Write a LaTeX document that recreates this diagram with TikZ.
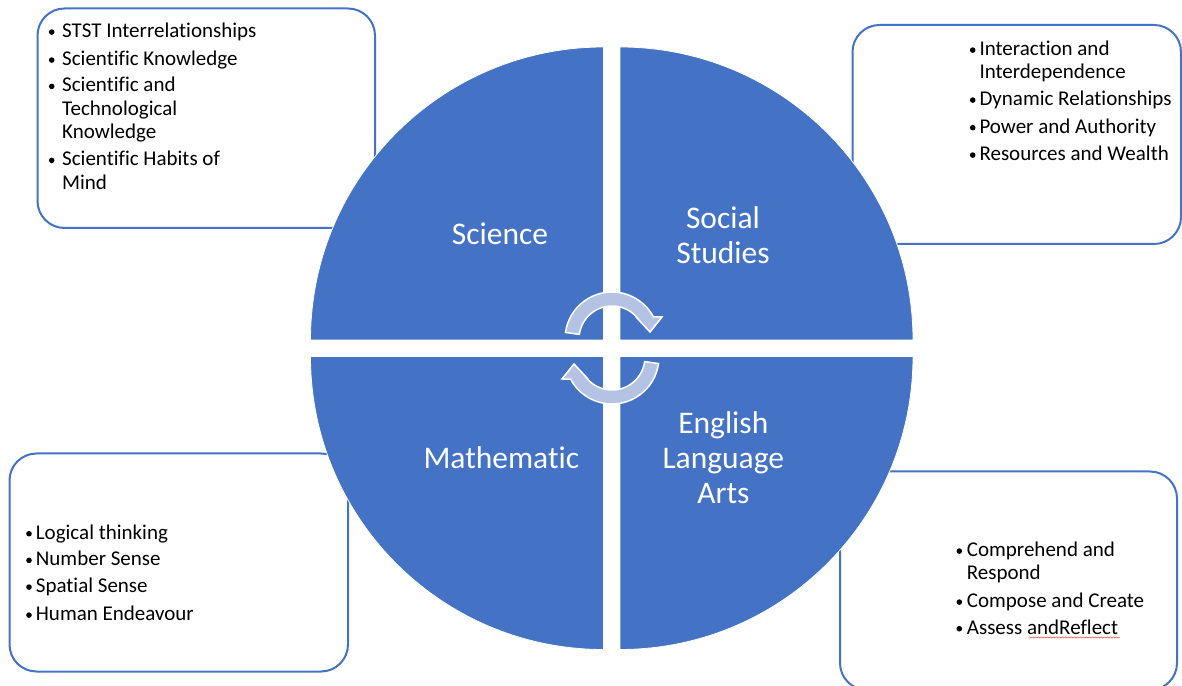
\documentclass[tikz,border=0pt]{standalone}
\usepackage{fontspec}
\setmainfont{Carlito}[Ligatures=NoCommon]
\usetikzlibrary{decorations.pathmorphing}
\definecolor{accent}{HTML}{4472C4}
\definecolor{arrowfill}{HTML}{B4C2E3}
\begin{document}
\begin{tikzpicture}[x=1pt,y=1pt,
  box/.style={draw=accent, line width=2pt, rounded corners=27pt, fill=white, inner sep=0pt},
  quad/.style={fill=accent, draw=white, line width=0.8pt},
  qlabel/.style={text=white, font=\fontsize{31.5}{35}\selectfont, inner sep=0pt, anchor=base},
  item/.style={font=\fontsize{21}{23.5}\selectfont, inner sep=0pt, anchor=base west, text=black},
  cyc/.style={fill=arrowfill, draw=white, line width=1.5pt, line join=miter},
  bul/.style={fill=black}]
\useasboundingbox (0,0) rectangle (1182,685);
\clip (0,0) rectangle (1182,685);
\fill[white] (0,0) rectangle (1182,685);

% boxes
\node[box, minimum width=337.5pt, minimum height=219.5pt] (scibox) at (206.25,566.75) {};
\node[box, minimum width=328.5pt, minimum height=219pt] (socbox) at (1016.75,550.5) {};
\node[box, minimum width=338.5pt, minimum height=218pt] (mathbox) at (178.75,122.5) {};
\node[box, minimum width=337pt, minimum height=218.5pt] (engbox) at (1008.5,104.25) {};

% quadrants
\draw[quad] (603.5,345) -- (310.5,345) arc[start angle=180,end angle=90,radius=293] -- cycle;
\draw[quad] (620,345) -- (620,638) arc[start angle=90,end angle=0,radius=293] -- cycle;
\draw[quad] (603.5,328.5) -- (310.5,328.5) arc[start angle=180,end angle=270,radius=293] -- cycle;
\draw[quad] (620,328.5) -- (913,328.5) arc[start angle=0,end angle=-90,radius=293] -- cycle;

% quadrant labels
\node[qlabel] (sci) at (500,440) {Science};
\node[qlabel] (soc1) at (723,456) {Social};
\node[qlabel] (soc2) at (723,421.7) {Studies};
\node[qlabel] (math) at (501.3,216.7) {Mathematic};
\node[qlabel] (eng1) at (723.3,251.7) {English};
\node[qlabel] (eng2) at (723.3,216.7) {Language};
\node[qlabel] (eng3) at (723.3,181.7) {Arts};

% circular arrows
\draw[cyc] (565.46,352.54) arc[start angle=172,end angle=28,radius=47] -- (662,368) -- (650,353) -- (636,368) -- (638.7,365.4) arc[start angle=36,end angle=172,radius=33] -- cycle;
\begin{scope}[rotate around={180:(612,337)}]
\draw[cyc] (565.46,352.54) arc[start angle=172,end angle=28,radius=47] -- (662,368) -- (650,353) -- (636,368) -- (638.7,365.4) arc[start angle=36,end angle=172,radius=33] -- cycle;
\end{scope}

% Science items
\node[item] (s1) at (62,647.3) {STST Interrelationships};
\node[item] (s2) at (62,619.3) {Scientific Knowledge};
\node[item] (s3a) at (62,593) {Scientific and};
\node[item] (s3b) at (62,569.5) {Technological};
\node[item] (s3c) at (62,546) {Knowledge};
\node[item] (s4a) at (62,519) {Scientific Habits of};
\node[item] (s4b) at (62,495.7) {Mind};
\foreach \y in {647.3,619.3,593,519} \fill[bul] (51.7,\y+5.6) circle[radius=2.8];

% Social studies items
\node[item] (t1a) at (979.3,629.3) {Interaction and};
\node[item] (t1b) at (979.3,606) {Interdependence};
\node[item] (t2) at (979.3,579.3) {Dynamic Relationships};
\node[item] (t3) at (979.3,551.7) {Power and Authority};
\node[item] (t4) at (979.3,524.3) {Resources and Wealth};
\foreach \y in {629.3,579.3,551.7,524.3} \fill[bul] (972.7,\y+5.6) circle[radius=2.8];

% Mathematics items
\node[item] (m1) at (35.7,145.7) {Logical thinking};
\node[item] (m2) at (35.7,119) {Number Sense};
\node[item] (m3) at (35.7,92.3) {Spatial Sense};
\node[item] (m4) at (35.7,64.3) {Human Endeavour};
\foreach \y in {145.7,119,92.3,64.3} \fill[bul] (29,\y+5.6) circle[radius=2.8];

% ELA items
\node[item] (e1a) at (966.7,128.3) {Comprehend and};
\node[item] (e1b) at (966.7,106) {Respond};
\node[item] (e2) at (966.7,77.3) {Compose and Create};
\node[item] (e3) at (966.7,50.7) {Assess andReflect};
\foreach \y in {128.3,77.3,50.7} \fill[bul] (959.3,\y+5.6) circle[radius=2.8];
\draw[red!75!white, line width=0.5pt, decorate, decoration={snake, amplitude=0.6pt, segment length=3pt}] (1028.5,47.5) -- (1120,47.5);
\end{tikzpicture}
\end{document}
